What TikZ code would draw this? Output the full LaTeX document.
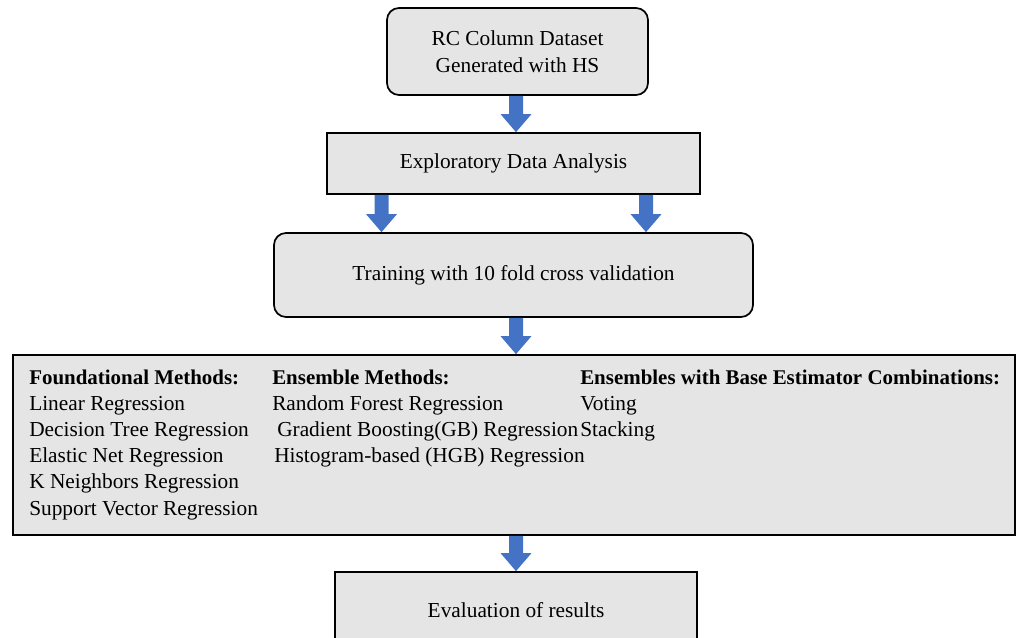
\documentclass[tikz,border=0pt]{standalone}
\usepackage{fontspec}
\setmainfont{Liberation Serif}
\usetikzlibrary{calc}
\definecolor{boxgray}{HTML}{E5E5E5}
\definecolor{arrowblue}{HTML}{4472C4}
\newcommand\labelsize{\fontsize{16}{20.5}\selectfont}
\newcommand\headsize{\fontsize{15.7}{20.5}\selectfont}
\tikzset{
  stage/.style={draw=black, line width=1.3pt, fill=boxgray, inner sep=0pt,
    align=center, font=\labelsize},
  roundstage/.style={stage, rounded corners=9pt},
  itemtext/.style={anchor=base west, inner sep=0pt, font=\labelsize},
  itemhead/.style={itemtext, font=\headsize\bfseries},
}
% block arrow pointing down from #1 to #2
\newcommand\blockarrow[2]{%
  \fill[arrowblue] let \p1=(#1), \p2=(#2) in
    (\x1-5.25pt,\y1) -- (\x1-5.25pt,\y2+13.5pt) -- (\x1-11.6pt,\y2+13.5pt)
    -- (\x1,\y2) -- (\x1+11.6pt,\y2+13.5pt) -- (\x1+5.25pt,\y2+13.5pt)
    -- (\x1+5.25pt,\y1) -- cycle;}
\begin{document}
\begin{tikzpicture}[x=0.75pt, y=-0.75pt]
\useasboundingbox (0,0) rectangle (1017,638);
\clip (0,0) rectangle (1017,638);

\node[roundstage, minimum width=261*0.75pt, minimum height=87*0.75pt]
  (data) at (517.5,51.5) {RC Column Dataset\\Generated with HS};
\node[stage, minimum width=373*0.75pt, minimum height=61*0.75pt]
  (eda) at (513.5,163.5) {Exploratory Data Analysis};
\node[roundstage, minimum width=479*0.75pt, minimum height=84*0.75pt]
  (train) at (513.5,275) {Training with 10 fold cross validation};
\node[stage, minimum width=1002*0.75pt, minimum height=180*0.75pt]
  (methods) at (514,445) {};
\node[stage, minimum width=362*0.75pt, minimum height=76*0.75pt]
  (eval) at (516,610) {Evaluation of results};

% method lists
\node[itemhead] (f0) at (29,384) {Foundational Methods:};
\node[itemtext] (f1) at (29,410.2) {Linear Regression};
\node[itemtext] (f2) at (29,436.4) {Decision Tree Regression};
\node[itemtext] (f3) at (29,462.6) {Elastic Net Regression};
\node[itemtext] (f4) at (29,488.8) {K Neighbors Regression};
\node[itemtext] (f5) at (29,515) {Support Vector Regression};

\node[itemhead] (e0) at (272,384) {Ensemble Methods:};
\node[itemtext] (e1) at (272,410.2) {Random Forest Regression};
\node[itemtext] (e2) at (277,436.4) {Gradient Boosting(GB) Regression};
\node[itemtext] (e3) at (274,462.6) {Histogram-based (HGB) Regression};

\node[itemhead] (c0) at (580,384) {Ensembles with Base Estimator Combinations:};
\node[itemtext] (c1) at (580,410.2) {Voting};
\node[itemtext] (c2) at (580,436.4) {Stacking};

% connectors
\coordinate (mid) at (516,0);
\coordinate (lft) at (381.5,0);
\coordinate (rgt) at (646,0);
\blockarrow{data.south -| mid}{eda.north -| mid}
\blockarrow{eda.south -| lft}{train.north -| lft}
\blockarrow{eda.south -| rgt}{train.north -| rgt}
\blockarrow{train.south -| mid}{methods.north -| mid}
\blockarrow{methods.south -| mid}{eval.north -| mid}
\end{tikzpicture}
\end{document}
